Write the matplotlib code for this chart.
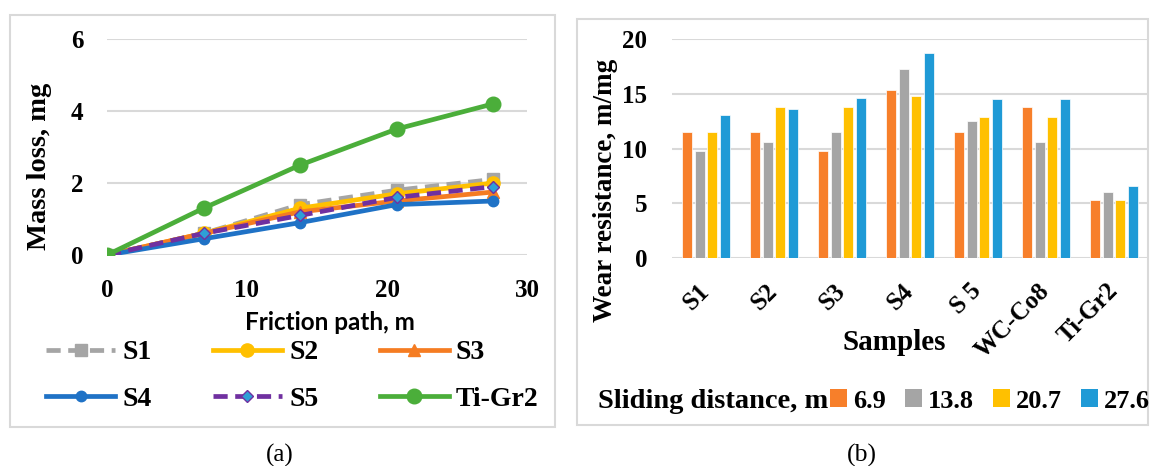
import matplotlib
matplotlib.use('Agg')
from matplotlib import pyplot as plt
from matplotlib.patches import Rectangle, Patch

# (a) mass loss vs friction path
path = [0, 6.9, 13.8, 20.7, 27.6]
s1 = [0, 0.6, 1.4, 1.8, 2.1]
s2 = [0, 0.6, 1.3, 1.7, 2.0]
s3 = [0, 0.6, 1.2, 1.5, 1.75]
s4 = [0, 0.45, 0.9, 1.4, 1.5]
s5 = [0, 0.6, 1.1, 1.6, 1.9]
ti_gr2 = [0, 1.3, 2.5, 3.5, 4.2]

# (b) wear resistance per sample
samples = ['S1', 'S2', 'S3', 'S4', 'S 5', 'WC-Co8', 'Ti-Gr2']
distances = ['6.9', '13.8', '20.7', '27.6']
wr_69 = [11.5, 11.5, 9.8, 15.3, 11.5, 13.8, 5.3]
wr_138 = [9.8, 10.6, 11.5, 17.3, 12.5, 10.6, 6.0]
wr_207 = [11.5, 13.8, 13.8, 14.8, 12.9, 12.9, 5.3]
wr_276 = [13.1, 13.6, 14.6, 18.7, 14.5, 14.5, 6.6]

W, H = 1156, 466
serif = 'Liberation Serif'
grid_c = '#D9D9D9'


def fx(x):
    return x / W


def fy(y):
    return 1 - y / H


fig = plt.figure(figsize=(W / 100, H / 100), dpi=100)

# panel frames
fig.patches.append(Rectangle((fx(10), fy(427)), fx(545), 412 / H, transform=fig.transFigure,
                             fill=False, edgecolor=grid_c, lw=1.5))
fig.patches.append(Rectangle((fx(577), fy(425)), fx(571), 406 / H, transform=fig.transFigure,
                             fill=False, edgecolor=grid_c, lw=1.5))

# ---- left chart
ax1 = fig.add_axes([fx(107), fy(255), fx(420), 216 / H])
ax1.plot(path, s1, color='#A5A5A5', lw=3.4, ls=(0, (3, 1.6)), marker='s', ms=8.5, label='S1')
ax1.plot(path, s2, color='#FFC000', lw=3.4, marker='o', ms=9.5, label='S2')
ax1.plot(path, s3, color='#F57C22', lw=3.4, marker='^', ms=8.5, label='S3')
ax1.plot(path, s4, color='#1F72C6', lw=3.4, marker='o', ms=7.5, label='S4')
ax1.plot(path, s5, color='#7030A0', lw=3.4, ls=(0, (3, 1.6)), marker='D', ms=6.5,
         markerfacecolor='#2E9FD6', markeredgecolor='#7030A0', label='S5')
ax1.plot(path, ti_gr2, color='#4BAE3A', lw=3.4, marker='o', ms=10.5, label='Ti-Gr2')

ax1.set_xlim(0, 30)
ax1.set_ylim(0, 6)
ax1.set_xticks([0, 10, 20, 30])
ax1.set_yticks([0, 2, 4, 6])
ax1.grid(axis='y', color=grid_c, lw=1.5)
ax1.set_axisbelow(True)
for s in ax1.spines.values():
    s.set_visible(False)
ax1.tick_params(length=0, pad=17)
for lab in ax1.get_xticklabels() + ax1.get_yticklabels():
    lab.set_fontfamily(serif)
    lab.set_fontweight('bold')
    lab.set_fontsize(18)

fig.text(fx(330), fy(323), 'Friction path, m', family='Lato', weight='bold', fontsize=17.5,
         ha='center', va='center')
fig.text(fx(40), fy(166), 'Mass loss, mg', family=serif, weight='bold', fontsize=20.5,
         rotation=90, ha='center', va='center')

h, l = ax1.get_legend_handles_labels()
order = [0, 3, 1, 4, 2, 5]
fig.legend([h[i] for i in order], [l[i] for i in order], ncol=3, loc='upper left',
           bbox_to_anchor=(fx(46), fy(340)), frameon=False, borderpad=0, borderaxespad=0,
           handlelength=2.5, handletextpad=0.25, columnspacing=2.2, labelspacing=0.75,
           prop={'family': serif, 'weight': 'bold', 'size': 20})

fig.text(fx(280), fy(455), '(a)', family=serif, fontsize=18, ha='center', va='center')

# ---- right chart
ax2 = fig.add_axes([fx(672), fy(258), fx(476), 219 / H])
colors = ['#F77F2A', '#A5A5A5', '#FFC000', '#1F9AD6']
series = [wr_69, wr_138, wr_207, wr_276]
step, bw = 0.182, 0.148
for i, (vals, c) in enumerate(zip(series, colors)):
    xs = [k + (i - 1.5) * step for k in range(len(samples))]
    ax2.bar(xs, vals, width=bw, color=c, edgecolor='white', lw=0.5, label=distances[i])

ax2.set_xlim(-0.5, len(samples) - 0.5)
ax2.set_ylim(0, 20)
ax2.set_yticks([0, 5, 10, 15, 20])
ax2.set_xticks(range(len(samples)))
ax2.set_xticklabels(samples, rotation=45, ha='right', va='center', rotation_mode='anchor')
ax2.grid(axis='y', color=grid_c, lw=1.5)
ax2.set_axisbelow(True)
for s in ax2.spines.values():
    s.set_visible(False)
ax2.tick_params(axis='y', length=0, pad=18)
ax2.tick_params(axis='x', length=0, pad=21)
for lab in ax2.get_xticklabels() + ax2.get_yticklabels():
    lab.set_fontfamily(serif)
    lab.set_fontweight('bold')
    lab.set_fontsize(18)

fig.text(fx(894), fy(343), 'Samples', family=serif, weight='bold', fontsize=21,
         ha='center', va='center')
fig.text(fx(606), fy(190), 'Wear resistance, m/mg', family=serif, weight='bold', fontsize=19.5,
         rotation=90, ha='center', va='center')

fig.text(fx(828), fy(401), 'Sliding distance, m', family=serif, weight='bold', fontsize=20.5,
         ha='right', va='center')
patches = [Patch(facecolor=c, edgecolor='none') for c in colors]
fig.legend(patches, distances, ncol=4, loc='center left', bbox_to_anchor=(fx(830), fy(401)),
           frameon=False, borderpad=0, borderaxespad=0, handlelength=0.66, handleheight=0.66,
           handletextpad=0.23, columnspacing=0.7,
           prop={'family': serif, 'weight': 'bold', 'size': 19})

fig.text(fx(862), fy(455), '(b)', family=serif, fontsize=18.5, ha='center', va='center')

fig.savefig('out.png', dpi=100)
